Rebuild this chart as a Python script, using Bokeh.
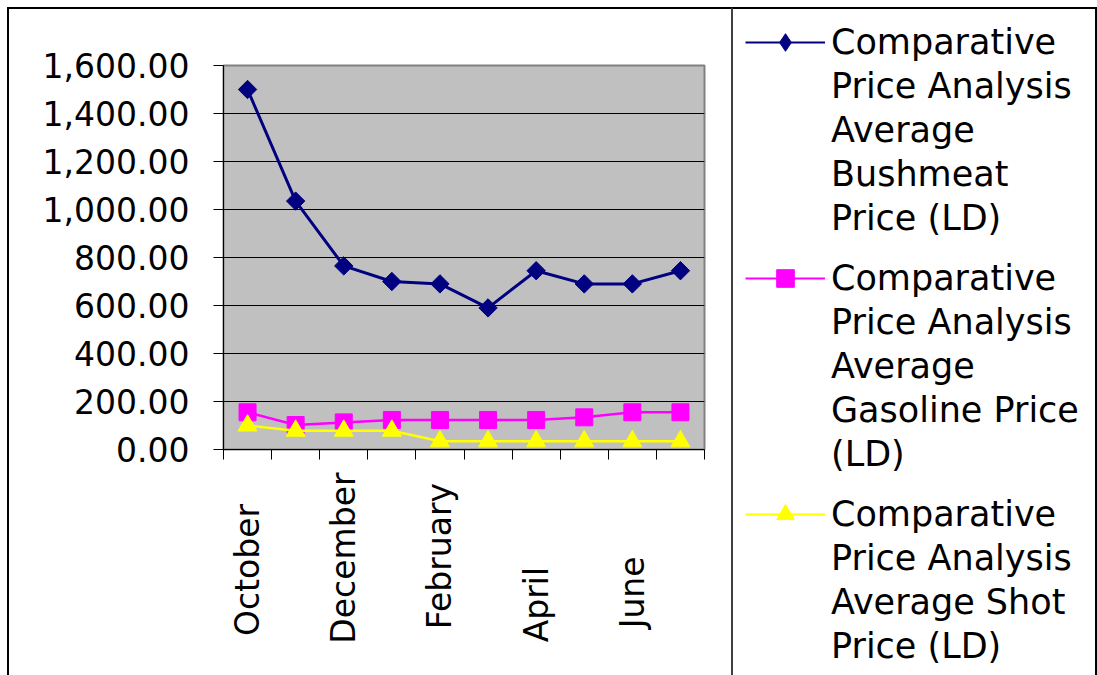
import math
from bokeh.plotting import figure
from bokeh.layouts import row
from bokeh.models import (Range1d, FixedTicker, NumeralTickFormatter, Legend,
                          LegendItem)
from bokeh.embed import file_html
from bokeh.resources import INLINE

# ---------------- data ----------------
months = ["October", "November", "December", "January", "February",
          "March", "April", "May", "June", "July"]
shown_month_labels = ["October", "December", "February", "April", "June"]
bushmeat = [1500, 1035, 765, 700, 690, 590, 745, 690, 690, 745]
gasoline = [155, 102, 113, 123, 123, 123, 123, 134, 155, 155]
shot = [100, 78, 78, 78, 34, 34, 34, 34, 34, 34]
y_ticks = [0, 200, 400, 600, 800, 1000, 1200, 1400, 1600]
series_names = [
    ["Comparative", "Price Analysis", "Average", "Bushmeat", "Price (LD)"],
    ["Comparative", "Price Analysis", "Average", "Gasoline Price", "(LD)"],
    ["Comparative", "Price Analysis", "Average Shot", "Price (LD)"],
]
series_colors = ["#000080", "#FF00FF", "#FFFF00"]

# ---------------- layout ----------------
# trailing no-break spaces so the rotated labels sit bottom-aligned
label_pad = {"October": 3, "December": 0, "February": 1, "April": 9, "June": 8}
FONT = "DejaVu Sans"
CW1, CW2, CH = 722, 362, 666          # canvas sizes (borders are added by CSS)
FL, FR, FT, FB = 214, 693, 56, 438    # frame edges in chart canvas px

p = figure(width=CW1 + 2, height=CH + 2, output_backend="svg",
           toolbar_location=None,
           x_range=Range1d(0, len(months)), y_range=Range1d(y_ticks[0], y_ticks[-1]),
           min_border_left=FL, min_border_right=CW1 - FR,
           min_border_top=FT, min_border_bottom=CH - FB)
p.styles = {"border-left": "2px solid black", "border-top": "2px solid black"}
p.background_fill_color = "#C0C0C0"
p.border_fill_color = "white"
p.outline_line_color = "#808080"
p.outline_line_width = 2

xs = [i + 0.5 for i in range(len(months))]

# x axis: labels at category centres, tick marks at category boundaries
p.xaxis.ticker = FixedTicker(ticks=xs, minor_ticks=list(range(len(months) + 1)))
p.xaxis.major_label_overrides = {
    xs[i]: (m + "\u00a0" * label_pad[m] if m in shown_month_labels else "")
    for i, m in enumerate(months)}
p.xaxis.major_label_orientation = math.pi / 2
p.xaxis.major_label_text_font = FONT
p.xaxis.major_label_text_font_size = "33px"
p.xaxis.major_label_text_color = "black"
p.xaxis.major_label_standoff = 13
p.xaxis.major_tick_line_color = None
p.xaxis.major_tick_in = 0
p.xaxis.major_tick_out = 0
p.xaxis.minor_tick_line_color = "black"
p.xaxis.minor_tick_in = 0
p.xaxis.minor_tick_out = 10
p.xaxis.axis_line_color = "black"

p.yaxis.ticker = FixedTicker(ticks=y_ticks)
p.yaxis.formatter = NumeralTickFormatter(format="0,0.00")
p.yaxis.major_label_text_font = FONT
p.yaxis.major_label_text_font_size = "33px"
p.yaxis.major_label_text_color = "black"
p.yaxis.major_label_standoff = 24
p.yaxis.major_tick_in = 0
p.yaxis.major_tick_out = 10
p.yaxis.minor_tick_line_color = None
p.yaxis.axis_line_color = "black"
p.yaxis.major_tick_line_color = "black"

p.xgrid.grid_line_color = None
p.ygrid.ticker = FixedTicker(ticks=y_ticks)
p.ygrid.grid_line_color = "black"
p.ygrid.grid_line_width = 1

# series
p.line(xs, bushmeat, line_color=series_colors[0], line_width=3)
p.scatter(xs, bushmeat, marker="square", angle=math.pi / 4, size=13,
          fill_color=series_colors[0], line_color=series_colors[0])
p.line(xs, gasoline, line_color=series_colors[1], line_width=2.5)
p.scatter(xs, gasoline, marker="square", size=17,
          fill_color=series_colors[1], line_color=series_colors[1])
p.line(xs, shot, line_color=series_colors[2], line_width=2.5)
p.scatter(xs, shot, marker="triangle", size=19,
          fill_color=series_colors[2], line_color=series_colors[2])

# ---------------- legend panel ----------------
q = figure(width=CW2 + 4, height=CH + 2, output_backend="svg",
           toolbar_location=None,
           x_range=Range1d(0, 1), y_range=Range1d(0, 1),
           x_axis_location=None, y_axis_location=None, min_border=0)
q.styles = {"border-left": "2px solid #404040", "border-top": "2px solid black",
            "border-right": "2px solid black"}
q.grid.visible = False
q.outline_line_color = None
q.background_fill_color = "white"
q.border_fill_color = "white"

frame_aligned = True
for fig in (p, q):
    if "frame_align" in fig.properties():
        fig.frame_align = False
        frame_aligned = False
# bottom of the legend panel's frame in its canvas
Q_BOTTOM = FB if frame_aligned else CH

legend_markers = ["diamond", "square", "triangle"]
blank = q.line(x=[], y=[], line_alpha=0)
proxy_x, proxy_y = [-5], [-5]          # legend proxies, outside the view

LINE_H = 44
GROUP_GAP = 16
top = 9
for k, name_lines in enumerate(series_names):
    lr = q.line(x=proxy_x, y=proxy_y, line_color=series_colors[k], line_width=2)
    mr = q.scatter(x=proxy_x, y=proxy_y, marker=legend_markers[k],
                   fill_color=series_colors[k], line_color=series_colors[k])
    items = [LegendItem(label=name_lines[0], renderers=[lr, mr])]
    items += [LegendItem(label=t, renderers=[blank]) for t in name_lines[1:]]
    leg_h = LINE_H * len(name_lines)
    leg = Legend(items=items, location=(12, Q_BOTTOM - top - leg_h), margin=0,
                 padding=0, spacing=0, glyph_width=80, glyph_height=LINE_H,
                 label_height=LINE_H, label_standoff=6,
                 label_text_font=FONT, label_text_font_size="35px",
                 label_text_color="black", border_line_color=None,
                 background_fill_alpha=0)
    q.add_layout(leg)
    top += leg_h + GROUP_GAP

layout = row(p, q, styles={"margin-left": "7px", "margin-top": "7px"})
open("out.html", "w").write(file_html(layout, INLINE))
